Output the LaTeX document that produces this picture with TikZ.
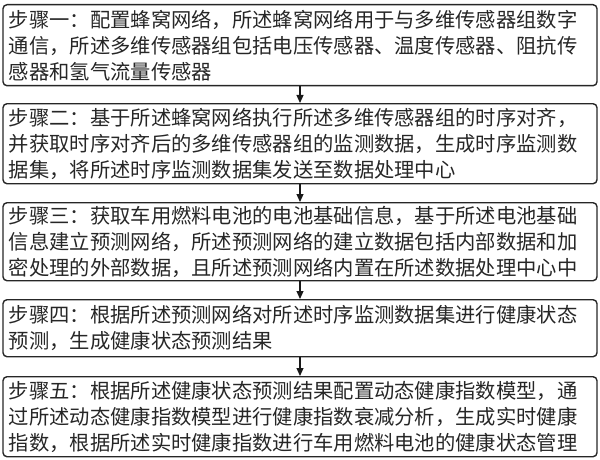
\documentclass[tikz,border=0pt]{standalone}
\usepackage{fontspec}
\newfontfamily\cjk{Noto Sans CJK SC}
\usetikzlibrary{arrows.meta}
\tikzset{
  stepbox/.style={draw=black!85, line width=1.4pt, rounded corners=4pt,
    text width=582pt, inner xsep=6pt, inner ysep=0pt, align=left,
    font=\cjk\fontsize{20.3}{26}\selectfont, text=black!85, anchor=north},
  arr/.style={draw=black!90, line width=1.2pt, -{Triangle[length=8pt,width=7pt]}}
}
\begin{document}
\begin{tikzpicture}[x=1pt,y=-1pt]
\useasboundingbox (0,0) rectangle (600,460);
\node[stepbox, minimum height=81pt] (s1) at (300,4) {步骤一：配置蜂窝网络，所述蜂窝网络用于与多维传感器组数字\\通信，所述多维传感器组包括电压传感器、温度传感器、阻抗传\\感器和氢气流量传感器};
\node[stepbox, minimum height=80pt] (s2) at (300,103) {步骤二：基于所述蜂窝网络执行所述多维传感器组的时序对齐，\\并获取时序对齐后的多维传感器组的监测数据，生成时序监测数\\据集，将所述时序监测数据集发送至数据处理中心};
\node[stepbox, minimum height=78pt] (s3) at (300,202) {步骤三：获取车用燃料电池的电池基础信息，基于所述电池基础\\信息建立预测网络，所述预测网络的建立数据包括内部数据和加\\密处理的外部数据，且所述预测网络内置在所述数据处理中心中};
\node[stepbox, minimum height=57pt] (s4) at (300,299) {步骤四：根据所述预测网络对所述时序监测数据集进行健康状态\\预测，生成健康状态预测结果};
\node[stepbox, minimum height=80pt] (s5) at (300,376) {步骤五：根据所述健康状态预测结果配置动态健康指数模型，通\\过所述动态健康指数模型进行健康指数衰减分析，生成实时健康\\指数，根据所述实时健康指数进行车用燃料电池的健康状态管理};
\draw[arr] (s1.south) -- (s2.north);
\draw[arr] (s2.south) -- (s3.north);
\draw[arr] (s3.south) -- (s4.north);
\draw[arr] (s4.south) -- (s5.north);
\end{tikzpicture}
\end{document}
